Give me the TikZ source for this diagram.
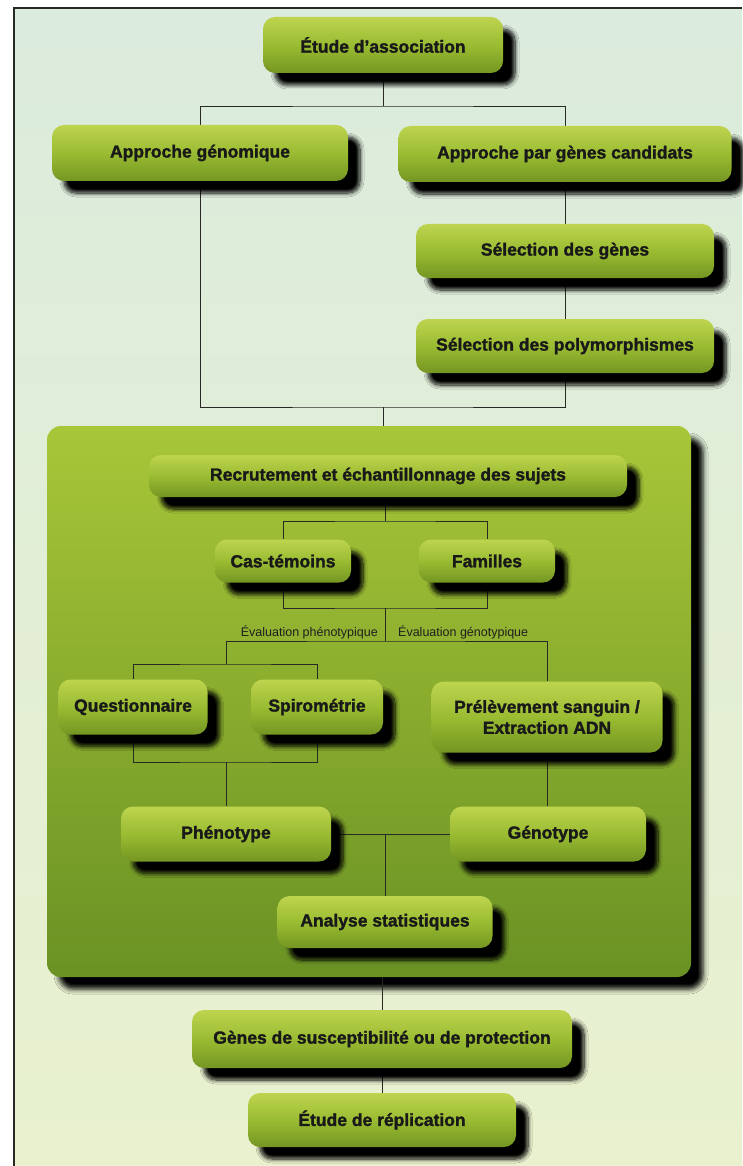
\documentclass[tikz,border=0pt]{standalone}
\usepackage{fontspec}
\setmainfont{Liberation Sans}
\newfontfamily\boitefont{Liberation Sans}[Ligatures=TeX, BoldFeatures={FakeBold=1.6}]
\usetikzlibrary{shadows.blur}

\definecolor{fond1}{RGB}{219,235,221}
\definecolor{fond2}{RGB}{233,241,206}
\definecolor{vertclair}{RGB}{190,212,78}
\definecolor{vertmoyen}{RGB}{154,188,50}
\definecolor{vertfonce}{RGB}{116,150,34}
\definecolor{panneau1}{RGB}{168,198,56}
\definecolor{panneau2}{RGB}{106,146,36}
\definecolor{trait}{RGB}{40,40,36}

\pgfdeclarelayer{fond}
\pgfdeclarelayer{liens}
\pgfsetlayers{fond,liens,main}

\tikzset{
  boite/.style={rounded corners=12pt, top color=vertclair, bottom color=vertfonce, middle color=vertmoyen,
    blur shadow={shadow xshift=12pt, shadow yshift=-12pt, shadow blur radius=4pt, shadow blur steps=8, shadow opacity=100},
    font=\boitefont\fontsize{17.5}{21}\selectfont\bfseries, text=black!90, align=center, inner sep=0pt},
  panneau/.style={rounded corners=14pt, minimum width=644pt, minimum height=551pt,
    top color=panneau1, bottom color=panneau2, inner sep=0pt,
    blur shadow={shadow xshift=12pt, shadow yshift=-12pt, shadow blur radius=5pt, shadow opacity=100}},
  lien/.style={draw=trait, line width=0.9pt},
  petit/.style={font=\fontsize{12.5}{14}\selectfont, text=black!88, inner sep=1pt}
}

\begin{document}
\begin{tikzpicture}[x=1pt,y=-1pt]
\useasboundingbox (0,0) rectangle (742,1166);

\node[boite, minimum width=240pt, minimum height=56pt] (etude) at (383,45) {Étude d’association};
\node[boite, minimum width=296pt, minimum height=56pt] (genom) at (200,153) {Approche génomique};
\node[boite, minimum width=333pt, minimum height=56pt] (cand) at (565,154) {Approche par gènes candidats};
\node[boite, minimum width=298pt, minimum height=54pt] (selg) at (565,251) {Sélection des gènes};
\node[boite, minimum width=298pt, minimum height=54pt] (selp) at (565,346) {Sélection des polymorphismes};

\node[boite, minimum width=478pt, minimum height=42pt] (recr) at (388,476) {Recrutement et échantillonnage des sujets};
\node[boite, minimum width=136pt, minimum height=43pt] (cas) at (283,561) {Cas-témoins};
\node[boite, minimum width=136pt, minimum height=43pt] (fam) at (487,561) {Familles};
\node[petit, anchor=east] (evph) at (379,632) {Évaluation phénotypique};
\node[petit, anchor=west] (evge) at (397,632) {Évaluation génotypique};
\node[boite, minimum width=149pt, minimum height=55pt] (ques) at (133,707) {Questionnaire};
\node[boite, minimum width=132pt, minimum height=55pt] (spiro) at (317,707) {Spirométrie};
\node[boite, minimum width=231pt, minimum height=71pt] (prel) at (547,717) {Prélèvement sanguin /\\Extraction ADN};
\node[boite, minimum width=210pt, minimum height=55pt] (pheno) at (226,834) {Phénotype};
\node[boite, minimum width=196pt, minimum height=55pt] (geno) at (548,834) {Génotype};
\node[boite, minimum width=215pt, minimum height=52pt] (anal) at (385,922) {Analyse statistiques};

\node[boite, minimum width=380pt, minimum height=58pt] (genes) at (382,1039) {Gènes de susceptibilité ou de protection};
\node[boite, minimum width=268pt, minimum height=54pt] (repl) at (382,1120) {Étude de réplication};

\begin{pgfonlayer}{fond}
\fill[white] (0,0) rectangle (742,1166);
\shade[top color=fond1, bottom color=fond2] (14,8) rectangle (742,1166);
\draw[trait, line width=1.2pt] (14,1166) -- (14,8) -- (742,8);
\node[panneau] (cadre) at (369,701.5) {};
\end{pgfonlayer}

\begin{pgfonlayer}{liens}
\coordinate (j1) at (383,106);
\draw[lien] (etude) -- (j1);
\draw[lien] (genom.north) |- (j1) -| (cand.north);
\draw[lien] (cand) -- (selg);
\draw[lien] (selg) -- (selp);
\coordinate (j2) at (383,407);
\draw[lien] (genom.south) |- (j2) -| (selp.south);
\draw[lien] (j2) -- (j2 |- cadre.north);

\coordinate (j3) at (385,521);
\draw[lien] (recr.south -| j3) -- (j3);
\draw[lien] (cas.north) |- (j3) -| (fam.north);
\coordinate (j4) at (385,608);
\draw[lien] (cas.south) |- (j4) -| (fam.south);
\coordinate (j5) at (385,641);
\draw[lien] (j4) -- (j5);
\coordinate (j6) at (226,664);
\draw[lien] (j6) |- (j5) -| (prel.north);
\draw[lien] (ques.north) |- (j6) -| (spiro.north);
\coordinate (j7) at (226,762);
\draw[lien] (ques.south) |- (j7) -| (spiro.south);
\draw[lien] (j7) -- (pheno);
\draw[lien] (prel.south) -- (prel.south |- geno.north);
\draw[lien] (pheno) -- (geno);
\coordinate (j8) at (385,834);
\draw[lien] (j8) -- (anal);

\draw[lien] (cadre.south -| genes) -- (genes);
\draw[lien] (genes) -- (repl);
\end{pgfonlayer}
\end{tikzpicture}
\end{document}
